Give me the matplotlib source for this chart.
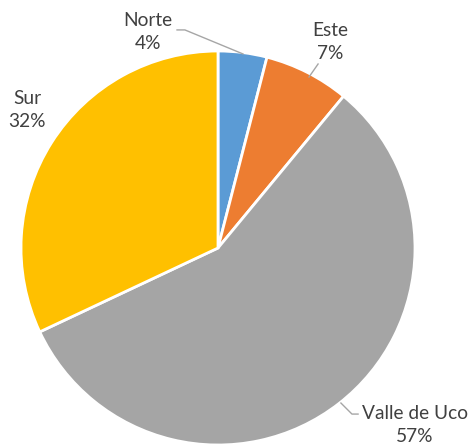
"""
Pie chart of share by region.
"""
import matplotlib
matplotlib.use("Agg")
from matplotlib import pyplot as plt


REGIONS = ["Norte", "Este", "Valle de Uco", "Sur"]
SHARES = [4, 7, 57, 32]
COLORS = ["#5B9BD5", "#ED7D31", "#A5A5A5", "#FFC000"]
LABEL_POS = [(-0.355, 1.096), (0.569, 1.046), (1.0, -0.898), (-0.97, 0.70)]
LEADERS = {
    "Norte": ([0.127, -0.168, -0.208], [0.985, 1.107, 1.107]),
    "Este": ([0.462, 0.508], [0.868, 0.934]),
    "Valle de Uco": ([0.624, 0.680, 0.711], [-0.787, -0.843, -0.843]),
}
OUTPUT = "out.png"


if __name__ == "__main__":
    plt.rcParams["font.family"] = ["Lato", "DejaVu Sans"]
    fig = plt.figure(figsize=(4.74, 4.45), dpi=100)
    ax = fig.add_axes([(218 - 197) / 474, 0.0, 394 / 474, 394 / 445])

    ax.pie(
        SHARES, colors=COLORS, startangle=90, counterclock=False,
        radius=1.0, wedgeprops={"edgecolor": "white", "linewidth": 2},
    )
    for name, share, (x, y) in zip(REGIONS, SHARES, LABEL_POS):
        ax.text(x, y, f"{name}\n{share}%", ha="center", va="center",
                fontsize=13.8, color="#404040", linespacing=1.45)
    for xs, ys in LEADERS.values():
        ax.plot(xs, ys, color="#A6A6A6", linewidth=1, clip_on=False)

    ax.set_xlim(-1, 1)
    ax.set_ylim(-1, 1)
    ax.set_aspect("equal")
    ax.axis("off")
    fig.savefig(OUTPUT, dpi=100)
